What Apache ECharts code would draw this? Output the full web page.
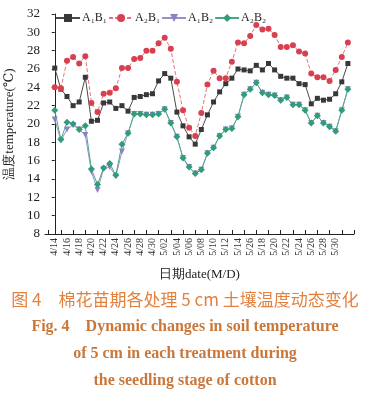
<!DOCTYPE html>
<html><head><meta charset="utf-8">
<script src="https://cdn.jsdelivr.net/npm/echarts@6/dist/echarts.min.js"></script>
<style>html,body{margin:0;padding:0;background:#fff}#c{width:370px;height:400px}</style>
</head><body><div id="c"></div>
<script>
// tick labels (every second day), index of day 0 = 4/14
const tickLabels = ['4/14','4/16','4/18','4/20','4/22','4/24','4/26','4/28','4/30','5/02','5/04','5/06','5/08','5/10','5/12','5/14','5/26','5/18','5/20','5/22','5/24','5/26','5/28','5/30'];
const seriesNames = ['A₁B₁','A₂B₁','A₁B₂','A₂B₂'];
const a1b1 = [26.1,23.8,23.0,22.0,22.4,25.1,20.3,20.4,22.3,22.4,21.7,22.0,21.4,22.9,23.0,23.2,23.3,24.7,25.5,25.0,21.3,19.8,18.6,17.8,19.4,21.0,22.4,23.5,24.4,25.0,26.0,25.9,25.8,26.4,25.9,26.6,25.9,25.2,25.0,25.0,24.4,24.3,22.2,22.8,22.6,22.7,23.3,24.6,26.6];
const a2b1 = [24.0,23.9,26.9,27.3,26.6,27.4,22.3,21.3,23.3,23.4,23.9,26.1,26.1,27.1,27.2,28.0,28.0,28.8,29.4,28.2,24.6,21.5,19.6,18.7,21.2,24.3,25.8,25.0,25.0,26.8,28.9,28.8,29.6,30.8,30.3,30.4,29.7,28.4,28.4,28.6,27.9,27.7,25.5,25.1,25.1,24.7,25.9,27.3,28.9];
const a1b2 = [20.5,18.2,19.4,19.9,19.4,18.8,14.8,12.8,15.1,15.3,14.3,17.0,19.0,21.1,21.1,21.0,21.0,21.1,21.6,20.1,18.6,16.3,15.3,14.6,15.0,16.8,17.4,18.7,19.4,19.5,20.8,23.2,23.8,24.5,23.4,23.2,23.1,22.6,22.9,22.1,22.1,21.5,20.1,20.9,20.1,19.7,19.2,21.5,23.8];
const a2b2 = [21.5,18.3,20.2,20.0,19.4,19.8,15.1,13.4,15.2,15.7,14.4,17.8,19.0,21.1,21.1,21.0,21.0,21.1,21.6,20.1,18.6,16.3,15.3,14.6,15.0,16.8,17.4,18.7,19.4,19.5,20.8,23.2,23.8,24.5,23.4,23.2,23.1,22.6,22.9,22.1,22.1,21.5,20.1,20.9,20.1,19.7,19.2,21.5,23.8];

const toXY = arr => arr.map((v,i)=>[i,v]);
const labelIdx = tickLabels.map((_,k)=>2*k);
const tickIdx = []; for (let k=-1;k<=49;k+=2) tickIdx.push(k);

const serif = '"Liberation Serif","DejaVu Serif",serif';
const chart = echarts.init(document.getElementById('c'));
chart.setOption({
  animation:false,
  grid:{left:45,right:16,top:14,bottom:166,containLabel:false,outerBoundsMode:'none'},
  legend:{
    left:50, top:7, itemGap:1, itemWidth:24, itemHeight:10,
    textStyle:{fontFamily:serif,fontSize:12,color:'#222',padding:[0,0,0,-3]},
    data:seriesNames
  },
  xAxis:{
    type:'value', min:-1.6, max:49,
    name:'日期date(M/D)', nameLocation:'middle', nameGap:34,
    nameTextStyle:{fontFamily:serif,fontSize:13,color:'#222'},
    axisLine:{lineStyle:{color:'#222',width:1}},
    axisTick:{inside:true,length:4,customValues:tickIdx,lineStyle:{color:'#222'}},
    axisLabel:{customValues:labelIdx,rotate:90,fontFamily:serif,fontSize:10,color:'#333',margin:4,
      formatter:v=>tickLabels[Math.round(v/2)]},
    splitLine:{show:false}
  },
  yAxis:{
    type:'value', min:8, max:32, interval:2,
    name:'温度temperature(℃)', nameLocation:'middle', nameGap:29,
    nameTextStyle:{fontFamily:serif,fontSize:13,color:'#222'},
    axisLine:{show:true,lineStyle:{color:'#222',width:1}},
    axisTick:{show:true,length:3,lineStyle:{color:'#222'}},
    axisLabel:{fontFamily:serif,fontSize:13,color:'#222',margin:5},
    splitLine:{show:false}
  },
  series:[
    {name:seriesNames[0],type:'line',data:toXY(a1b1),symbol:'rect',symbolSize:5,
      itemStyle:{color:'#383838'},lineStyle:{color:'#4a4a4a',width:1}},
    {name:seriesNames[1],type:'line',data:toXY(a2b1),symbol:'circle',symbolSize:6,
      itemStyle:{color:'#d8404f'},lineStyle:{color:'#e2727c',width:1,type:[4,2]}},
    {name:seriesNames[2],type:'line',data:toXY(a1b2),symbol:'triangle',symbolRotate:180,symbolSize:6,
      itemStyle:{color:'#8e80c4'},lineStyle:{color:'#9a8ecb',width:1}},
    {name:seriesNames[3],type:'line',data:toXY(a2b2),symbol:'diamond',symbolSize:7,
      itemStyle:{color:'#2e9e78'},lineStyle:{color:'#4aa888',width:1}}
  ],
  graphic:[
    {type:'text',left:'center',top:291,style:{text:'图 4　棉花苗期各处理 5 cm 土壤温度动态变化',font:'17px "Noto Sans CJK SC", sans-serif',fill:'#e3813f'}},
    {type:'text',left:'center',top:319,style:{text:'Fig. 4　Dynamic changes in soil temperature',font:'bold 16px "Liberation Serif", serif',fill:'#c9773a'}},
    {type:'text',left:'center',top:346,style:{text:'of 5 cm in each treatment during',font:'bold 16px "Liberation Serif", serif',fill:'#c9773a'}},
    {type:'text',left:'center',top:373,style:{text:'the seedling stage of cotton',font:'bold 16px "Liberation Serif", serif',fill:'#c9773a'}}
  ]
});
</script></body></html>
